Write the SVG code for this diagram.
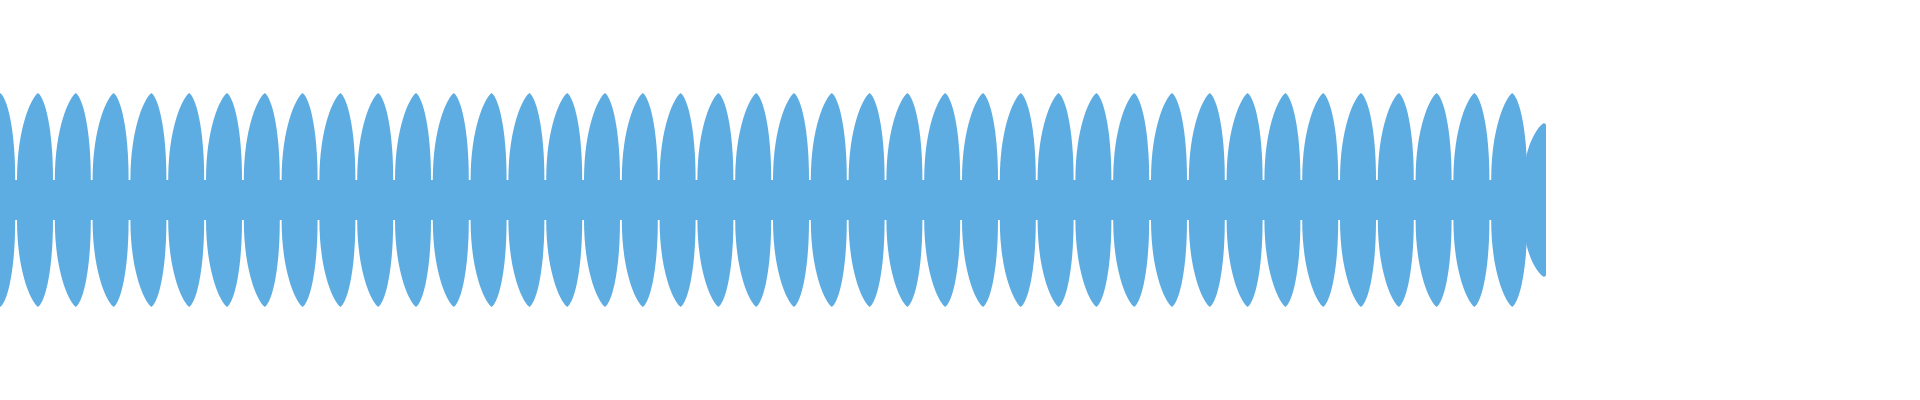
<svg xmlns="http://www.w3.org/2000/svg" xmlns:xlink="http://www.w3.org/1999/xlink" width="1920" height="400" viewBox="0 0 1920 400">
<defs>
<style>.w{fill:#5DADE2}</style>
<path id="L" class="w" d="M1,200 L1,180 C1,128 15,98 22,93 C29,98 37,128 37,180 L37,220 C37,272 29,302 22,307 C15,302 1,272 1,220 Z"/>
<clipPath id="c"><rect x="0" y="0" width="1546" height="400"/></clipPath>
</defs>
<rect width="1920" height="400" fill="#fff"/>
<g id="wave" clip-path="url(#c)">
<rect class="w" x="0" y="180" width="1546" height="40"/>
<use xlink:href="#L" x="-21.8"/><use xlink:href="#L" x="16"/><use xlink:href="#L" x="53.8"/><use xlink:href="#L" x="91.6"/><use xlink:href="#L" x="129.4"/><use xlink:href="#L" x="167.2"/><use xlink:href="#L" x="205"/><use xlink:href="#L" x="242.8"/><use xlink:href="#L" x="280.6"/><use xlink:href="#L" x="318.4"/><use xlink:href="#L" x="356.2"/><use xlink:href="#L" x="394"/><use xlink:href="#L" x="431.8"/><use xlink:href="#L" x="469.6"/><use xlink:href="#L" x="507.4"/><use xlink:href="#L" x="545.2"/><use xlink:href="#L" x="583"/><use xlink:href="#L" x="620.8"/><use xlink:href="#L" x="658.6"/><use xlink:href="#L" x="696.4"/><use xlink:href="#L" x="734.2"/><use xlink:href="#L" x="772"/><use xlink:href="#L" x="809.8"/><use xlink:href="#L" x="847.6"/><use xlink:href="#L" x="885.4"/><use xlink:href="#L" x="923.2"/><use xlink:href="#L" x="961"/><use xlink:href="#L" x="998.8"/><use xlink:href="#L" x="1036.6"/><use xlink:href="#L" x="1074.4"/><use xlink:href="#L" x="1112.2"/><use xlink:href="#L" x="1150"/><use xlink:href="#L" x="1187.8"/><use xlink:href="#L" x="1225.6"/><use xlink:href="#L" x="1263.4"/><use xlink:href="#L" x="1301.2"/><use xlink:href="#L" x="1339"/><use xlink:href="#L" x="1376.8"/><use xlink:href="#L" x="1414.6"/><use xlink:href="#L" x="1452.4"/><use xlink:href="#L" x="1490.2"/>
<use xlink:href="#L" transform="translate(1522,56) scale(1,0.72)"/>
</g>
</svg>
